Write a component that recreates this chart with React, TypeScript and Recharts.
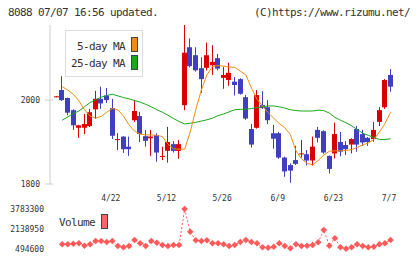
import React from 'react';
import { ComposedChart, Bar, Line, XAxis, YAxis } from 'recharts';

const MONO = '"DejaVu Sans Mono", monospace';
const UP = '#d80000';
const DOWN = '#3f3fbf';
const MA5_COLOR = '#f08c14';
const MA25_COLOR = '#18a818';
const VOL_COLOR = '#ff5a5a';
const AXIS = '#cccccc';
const INK = '#333333';

// daily prices, oldest first (last bar is 7/7)
const opens = [
  2008, 2024, 2005, 1976, 1934, 1934, 1938, 1978, 2003, 2011,
  1981, 1906, 1913, 1889, 1952, 1962, 1914, 1909, 1917, 1866,
  1879, 1895, 1879, 1988, 2126, 2107, 2076, 2077, 2083, 2100,
  2053, 2048, 2044, 2050, 2007, 1931, 1934, 1988, 1983, 1921,
  1921, 1863, 1845, 1857, 1872, 1871, 1856, 1929, 1926, 1867,
  1873, 1900, 1893, 1894, 1931, 1919, 1910, 1907, 1948, 1983,
  2060,
];
const highs = [
  2010, 2057, 2006, 1978, 1941, 1967, 1979, 2022, 2032, 2029,
  2003, 1921, 1914, 1913, 2000, 1972, 1929, 1929, 1921, 1889,
  1936, 1902, 1905, 2179, 2147, 2126, 2102, 2137, 2131, 2110,
  2079, 2089, 2055, 2052, 2012, 1943, 2024, 2021, 2000, 1941,
  1924, 1865, 1849, 1891, 1905, 1881, 1913, 1936, 1928, 1868,
  1946, 1924, 1902, 1909, 1938, 1929, 1912, 1948, 1983, 2050,
  2074,
];
const lows = [
  2007, 1998, 1964, 1929, 1910, 1919, 1936, 1955, 1979, 1993,
  1907, 1881, 1874, 1867, 1948, 1900, 1889, 1867, 1853, 1857,
  1851, 1875, 1860, 1976, 2078, 2068, 2017, 2071, 2060, 2071,
  2027, 2034, 2011, 2013, 1953, 1887, 1932, 1979, 1943, 1884,
  1860, 1817, 1803, 1845, 1863, 1844, 1844, 1899, 1872, 1825,
  1861, 1866, 1869, 1873, 1877, 1891, 1891, 1901, 1938, 1979,
  2020,
];
const closes = [
  2009, 2000, 1970, 1940, 1940, 1943, 1971, 2003, 1992, 2000,
  1915, 1907, 1883, 1883, 1974, 1919, 1903, 1913, 1875, 1867,
  1900, 1879, 1895, 2113, 2081, 2071, 2050, 2107, 2091, 2075,
  2060, 2065, 2036, 2015, 1956, 1894, 2012, 1981, 1952, 1908,
  1863, 1830, 1832, 1848, 1873, 1856, 1889, 1910, 1875, 1836,
  1919, 1877, 1883, 1907, 1894, 1899, 1900, 1929, 1976, 2048,
  2032,
];
const ma5 = [
  null, 2032, 2024, 2014, 1998, 1977, 1962, 1957, 1961, 1971,
  1980, 1977, 1962, 1941, 1926, 1919, 1917, 1917, 1916, 1913,
  1895, 1884, 1883, 1883, 1924, 1977, 2024, 2060, 2080, 2082,
  2081, 2079, 2078, 2069, 2060, 2029, 2002, 1986, 1970, 1957,
  1944, 1934, 1918, 1879, 1860, 1849, 1846, 1856, 1869, 1878,
  1879, 1879, 1880, 1882, 1887, 1893, 1898, 1906, 1924, 1944,
  1971,
];
const ma25 = [
  null, 1952, 1960, 1968, 1974, 1984, 1994, 2001, 2007, 2011,
  2014, 2010, 2006, 2003, 1999, 1995, 1990, 1984, 1977, 1971,
  1964, 1956, 1949, 1943, 1945, 1947, 1950, 1953, 1957, 1963,
  1967, 1972, 1977, 1978, 1978, 1980, 1982, 1984, 1986, 1986,
  1984, 1981, 1977, 1975, 1974, 1974, 1974, 1976, 1975, 1969,
  1959, 1952, 1946, 1939, 1930, 1921, 1916, 1911, 1906, 1906,
  1908,
];
const volumes = [
  null, 859000, 859000, 909000, 942000, 743000, 859000, 1133000, 1133000, 1050000,
  1133000, 718000, 611000, 718000, 1215000, 942000, 718000, 1133000, 992000, 801000,
  718000, 801000, 801000, 3783300, 1903000, 1190000, 1133000, 1190000, 942000, 942000,
  859000, 718000, 801000, 1050000, 1215000, 1050000, 942000, 611000, 577000, 660000,
  942000, 718000, 528000, 859000, 718000, 743000, 801000, 1025000, 2044000, 743000,
  1356000, 611000, 494600, 611000, 859000, 718000, 611000, 660000, 859000, 942000,
  1215000,
];

const dateTickIdx = [10, 20, 30, 40, 50, 60];
const dateTickLabels = ['4/22', '5/12', '5/26', '6/9', '6/23', '7/7'];
const gridTicks = [-1.2, 4.6, 10.4, 16.2, 22, 27.8, 33.6, 39.4, 45.2, 51, 56.8, 62.6];
const priceTicks = [1800, 2000];
const volumeTicks = [494600, 2138950, 3783300];

const X_DOMAIN: [number, number] = [-1.2, 62.6];

const rows = closes.map((c, i) => ({
  i,
  open: opens[i],
  high: highs[i],
  low: lows[i],
  close: c,
  range: [lows[i], highs[i]],
  ma5: ma5[i],
  ma25: ma25[i],
  vol: volumes[i],
}));

const Candle = (props: any) => {
  const { x, y, width, height, payload } = props;
  if (x == null || y == null) return null;
  const { open, close, high, low } = payload;
  const k = height / (high - low || 1);
  const py = (v: number) => y + (high - v) * k;
  const color = close >= open ? UP : DOWN;
  const left = Math.round(x);
  const cx = left + 2.5;
  const top = py(Math.max(open, close));
  const bodyH = Math.max(1, Math.abs(py(open) - py(close)));
  return (
    <g>
      <line x1={cx} x2={cx} y1={y} y2={y + height} stroke={color} strokeWidth={1} />
      <rect x={left} y={top} width={width} height={bodyH} fill={color} />
    </g>
  );
};

const Diamond = (props: any) => {
  const { cx, cy, index } = props;
  if (cx == null || cy == null) return <g key={index} />;
  const r = 3.3;
  return (
    <polygon
      key={index}
      points={`${cx},${cy - r} ${cx + r},${cy} ${cx},${cy + r} ${cx - r},${cy}`}
      fill={VOL_COLOR}
    />
  );
};

const DateTick = (props: any) => {
  const { x, y, payload } = props;
  const at = dateTickIdx.indexOf(payload.value);
  return (
    <text x={x - 1.5} y={y + 17} textAnchor="middle" fontFamily={MONO} fontSize={8} fill={INK}>
      {at >= 0 ? dateTickLabels[at] : ''}
    </text>
  );
};

const GridTick = (props: any) => {
  const { x, y } = props;
  return <line x1={x} x2={x} y1={y - 3} y2={y + 6} stroke={AXIS} strokeWidth={1} />;
};

const PriceTick = (props: any) => {
  const { x, y, payload } = props;
  return (
    <g>
      <line x1={x - 5} x2={x + 3} y1={y} y2={y} stroke={AXIS} strokeWidth={1} />
      <text x={x - 10} y={y + 3} textAnchor="end" fontFamily={MONO} fontSize={8} fill={INK}>
        {payload.value}
      </text>
    </g>
  );
};

const VolumeTick = (props: any) => {
  const { x, y, payload } = props;
  return (
    <text x={x - 6} y={y + 3} textAnchor="end" fontFamily={MONO} fontSize={8} fill={INK}>
      {payload.value}
    </text>
  );
};

const label: React.CSSProperties = {
  position: 'absolute',
  fontFamily: MONO,
  fontSize: 11,
  letterSpacing: -0.62,
  lineHeight: '11px',
  color: INK,
  whiteSpace: 'nowrap',
};

const swatch = (fill: string): React.CSSProperties => ({
  position: 'absolute',
  width: 7,
  height: 15,
  boxSizing: 'border-box',
  border: '1px solid #444',
  background: fill,
});

export default function App() {
  return (
    <div style={{ position: 'absolute', left: 0, top: 0, width: 420, height: 259, background: '#fff', overflow: 'hidden' }}>
      <div style={{ ...label, left: 8, top: 7 }}>8088 07/07 16:56 updated.</div>
      <div style={{ ...label, right: 10, top: 7 }}>(C)https://www.rizumu.net/</div>

      <div style={{ position: 'absolute', left: 0, top: 0 }}>
        <ComposedChart width={420} height={210} data={rows} margin={{ top: 25, right: 15, bottom: 0, left: 0 }}>
          {/* short tick marks crossing the bottom axis */}
          <XAxis
            xAxisId="grid"
            dataKey="i"
            type="number"
            domain={X_DOMAIN}
            ticks={gridTicks}
            interval={0}
            height={0}
            axisLine={{ stroke: AXIS }}
            tickLine={false}
            tickSize={0}
            tickMargin={0}
            tick={<GridTick />}
          />
          {/* date labels, one every ten sessions */}
          <XAxis
            dataKey="i"
            type="number"
            domain={X_DOMAIN}
            ticks={dateTickIdx}
            interval={0}
            height={26}
            axisLine={false}
            tickLine={false}
            tickSize={0}
            tickMargin={0}
            tick={<DateTick />}
          />
          <YAxis
            type="number"
            domain={[1800, 2179]}
            ticks={priceTicks}
            interval={0}
            width={50}
            axisLine={{ stroke: AXIS }}
            tickLine={false}
            tickSize={0}
            tickMargin={0}
            tick={<PriceTick />}
          />
          <Bar dataKey="range" barSize={5} shape={<Candle />} isAnimationActive={false} />
          <Line dataKey="ma25" type="linear" stroke={MA25_COLOR} strokeWidth={1} dot={false} isAnimationActive={false} />
          <Line dataKey="ma5" type="linear" stroke={MA5_COLOR} strokeWidth={1} dot={false} isAnimationActive={false} />
        </ComposedChart>
      </div>

      <div
        style={{
          position: 'absolute',
          left: 65,
          top: 30,
          width: 78,
          height: 47,
          boxSizing: 'border-box',
          border: '1px solid #dddddd',
          background: '#fff',
        }}
      >
        <div style={{ ...label, right: 17, top: 9.5 }}>5-day MA</div>
        <div style={{ ...swatch(MA5_COLOR), left: 65, top: 6.3 }} />
        <div style={{ ...label, right: 17, top: 27 }}>25-day MA</div>
        <div style={{ ...swatch(MA25_COLOR), left: 65, top: 23.5 }} />
      </div>

      <div style={{ position: 'absolute', left: 0, top: 190 }}>
        <ComposedChart width={420} height={69} data={rows} margin={{ top: 19, right: 15, bottom: 10.3, left: 0 }}>
          <XAxis dataKey="i" type="number" domain={X_DOMAIN} hide />
          <YAxis
            type="number"
            domain={[494600, 3783300]}
            ticks={volumeTicks}
            interval={0}
            width={50}
            axisLine={false}
            tickLine={false}
            tickSize={0}
            tickMargin={0}
            tick={<VolumeTick />}
          />
          <Line
            dataKey="vol"
            type="linear"
            stroke={VOL_COLOR}
            strokeWidth={1}
            strokeDasharray="2 2"
            dot={<Diamond />}
            isAnimationActive={false}
          />
        </ComposedChart>
      </div>

      <div style={{ ...label, left: 59, top: 217 }}>Volume</div>
      <div style={{ ...swatch('#ff6464'), left: 101, top: 214 }} />
    </div>
  );
}
